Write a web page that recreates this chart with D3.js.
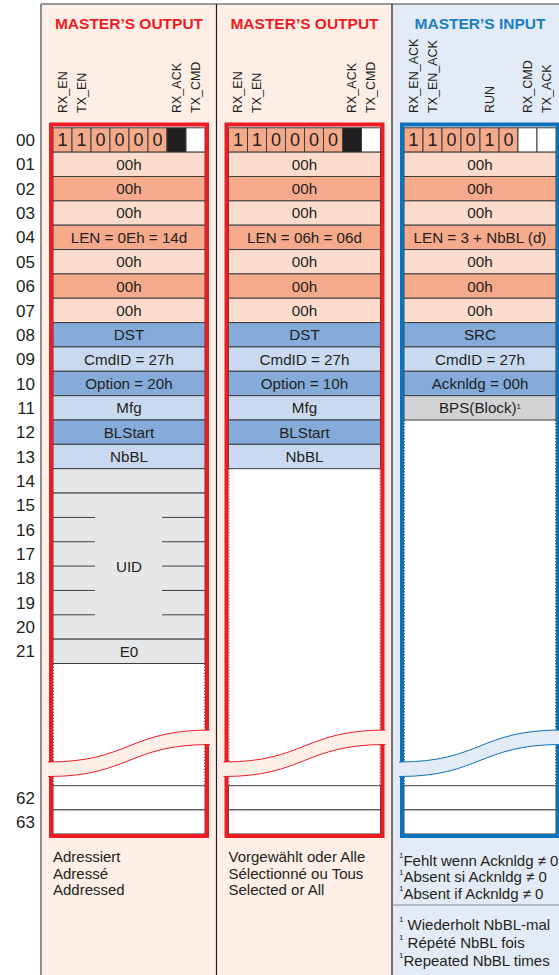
<!DOCTYPE html>
<html><head><meta charset="utf-8">
<script src="https://cdn.jsdelivr.net/npm/d3@7"></script>
<style>html,body{margin:0;padding:0;background:#fff;}svg{display:block;}</style>
</head><body>
<svg id="chart" width="559" height="975"></svg>
<script>
// ---------- data ----------
const panelTitles = ["MASTER’S OUTPUT", "MASTER’S OUTPUT", "MASTER’S INPUT"];
const panelThemes = ["out", "out", "in"];
const bitLabels = [
  ["RX_EN", "TX_EN", "", "", "", "", "RX_ACK", "TX_CMD"],
  ["RX_EN", "TX_EN", "", "", "", "", "RX_ACK", "TX_CMD"],
  ["RX_EN_ACK", "TX_EN_ACK", "", "", "RUN", "", "RX_CMD", "TX_ACK"]
];
const bitValues = [
  ["1", "1", "0", "0", "0", "0", "", ""],
  ["1", "1", "0", "0", "0", "0", "", ""],
  ["1", "1", "0", "0", "1", "0", "", ""]
];
const bitKinds = [
  ["v", "v", "v", "v", "v", "v", "black", "white"],
  ["v", "v", "v", "v", "v", "v", "black", "white"],
  ["v", "v", "v", "v", "v", "v", "white", "white"]
];
const rowLabels = ["00","01","02","03","04","05","06","07","08","09","10","11","12","13","14","15","16","17","18","19","20","21","62","63"];
const rowNumbers = [0,1,2,3,4,5,6,7,8,9,10,11,12,13,14,15,16,17,18,19,20,21,62,63];

const cellTexts = [
  ["00h","00h","00h","LEN = 0Eh = 14d","00h","00h","00h","DST","CmdID = 27h","Option = 20h","Mfg","BLStart","NbBL","","UID","E0"],
  ["00h","00h","00h","LEN = 06h = 06d","00h","00h","00h","DST","CmdID = 27h","Option = 10h","Mfg","BLStart","NbBL"],
  ["00h","00h","00h","LEN = 3 + NbBL (d)","00h","00h","00h","SRC","CmdID = 27h","Acknldg = 00h","BPS(Block)|1"]
];
const cellRows = [
  [1,2,3,4,5,6,7,8,9,10,11,12,13,14,15,21],
  [1,2,3,4,5,6,7,8,9,10,11,12,13],
  [1,2,3,4,5,6,7,8,9,10,11]
];
const cellSpans = [
  [1,1,1,1,1,1,1,1,1,1,1,1,1,1,6,1],
  [1,1,1,1,1,1,1,1,1,1,1,1,1],
  [1,1,1,1,1,1,1,1,1,1,1]
];
const cellKinds = [
  ["pl","pd","pl","pd","pl","pd","pl","bd","bl","bd","bl","bd","bl","g","uid","g"],
  ["pl","pd","pl","pd","pl","pd","pl","bd","bl","bd","bl","bd","bl"],
  ["pl","pd","pl","pd","pl","pd","pl","bd","bl","bd","g2"]
];
const tailRows = [62, 63];
const footerTexts = [
  [["Adressiert", "Adressé", "Addressed"]],
  [["Vorgewählt oder Alle", "Sélectionné ou Tous", "Selected or All"]],
  [["|1Fehlt wenn Acknldg ≠ 0", "|1Absent si Acknldg ≠ 0", "|1Absent if Acknldg ≠ 0"],
   ["|1 Wiederholt NbBL-mal", "|1 Répété NbBL fois", "|1Repeated NbBL times"]]
];

// ---------- styles ----------
const fillOf = {pl:"#fddccd", pd:"#f5aa8c", bd:"#84abd9", bl:"#c9daf0", g:"#e6e7e8", uid:"#e6e7e8", g2:"#d2d3d5",
  v:"#f5aa8c", black:"#231f20", white:"#ffffff"};
const theme = {
  out: {bg:"#fdeee6", frame:"#ed1c24", title:"#ed1c24"},
  in:  {bg:"#e3ebf6", frame:"#0b73ba", title:"#1b7dc2"}
};
const FONT = "'Liberation Sans', Arial, Helvetica, sans-serif";
const ink = "#231f20";
const cellStroke = "#3d3d3d";

const svg = d3.select("#chart").style("font-family", FONT);

// scales
const xPanel = d3.scaleLinear().domain([0, 1]).range([41, 216.5]);
const panelW = 175.5;
const cellInset = 12, cellW = 152;
const xBit = d3.scaleBand().domain(d3.range(8)).range([0, cellW]).padding(0);
const y = d3.scaleLinear().domain([0, 22, 62, 64]).range([127.8, 663.5, 785.7, 834]);

// panel backgrounds
panelThemes.forEach((t, i) => {
  const x0 = xPanel(i);
  svg.append("rect").attr("x", x0).attr("y", 4).attr("width", i === 2 ? 559 - x0 + 2 : panelW).attr("height", 975)
    .attr("fill", theme[t].bg);
});
// top border
svg.append("line").attr("x1", 41).attr("x2", 559).attr("y1", 4).attr("y2", 4).attr("stroke", "#7a7a7a").attr("stroke-width", 1.5);
// left border
svg.append("line").attr("x1", 41).attr("x2", 41).attr("y1", 4).attr("y2", 975).attr("stroke", "#8f8f8f").attr("stroke-width", 2);
// dividers
[1, 2].forEach(i => {
  svg.append("line").attr("x1", xPanel(i)).attr("x2", xPanel(i)).attr("y1", 4).attr("y2", 975)
    .attr("stroke", ink).attr("stroke-width", 1.2);
});

// row labels
svg.append("g").selectAll("text").data(rowLabels).join("text")
  .attr("x", 35).attr("y", (d, i) => (y(rowNumbers[i]) + y(rowNumbers[i] + 1)) / 2)
  .attr("dy", "0.36em").attr("text-anchor", "end").attr("font-size", 17).attr("fill", ink)
  .text(d => d);

function addSup(sel, str, supSize) {
  const parts = str.split("|1");
  parts.forEach((p, k) => {
    if (k > 0) {
      sel.append("tspan").attr("font-size", supSize).attr("dy", "-0.5em").text("1");
      sel.append("tspan").attr("dy", "0.5em").text(p);
    } else if (p) sel.append("tspan").text(p);
  });
}

panelThemes.forEach((t, p) => {
  const th = theme[t];
  const x0 = xPanel(p);
  const cx0 = x0 + cellInset, cx1 = cx0 + cellW;
  const g = svg.append("g");

  // title
  g.append("text").attr("x", cx0 + cellW / 2).attr("y", 29).attr("text-anchor", "middle")
    .attr("font-size", 15.5).attr("font-weight", "bold").attr("fill", th.title).text(panelTitles[p]);

  // vertical bit labels
  g.selectAll("text.bl").data(bitLabels[p]).join("text").attr("class", "bl")
    .attr("transform", (d, i) => `translate(${cx0 + xBit(i) + xBit.bandwidth() / 2 + 4.3},113) rotate(-90)`)
    .attr("font-size", 12.5).attr("fill", ink).text(d => d);

  // white area from end of filled rows to row 62
  const lastRow = d3.max(cellRows[p].map((r, k) => r + cellSpans[p][k]));
  g.append("rect").attr("x", cx0).attr("y", y(lastRow)).attr("width", cellW).attr("height", y(62) - y(lastRow))
    .attr("fill", "#fff");
  [cx0 + 0.5, cx1 - 0.5].forEach(xx => g.append("line").attr("x1", xx).attr("x2", xx)
    .attr("y1", y(lastRow)).attr("y2", y(62)).attr("stroke", "#6d6d6d").attr("stroke-width", 1).attr("stroke-dasharray", "1.5,1.5"));

  // bit row 00
  g.selectAll("rect.bit").data(bitValues[p]).join("rect").attr("class", "bit")
    .attr("x", (d, i) => cx0 + xBit(i)).attr("y", y(0)).attr("width", xBit.bandwidth()).attr("height", y(1) - y(0))
    .attr("fill", (d, i) => fillOf[bitKinds[p][i]]).attr("stroke", cellStroke).attr("stroke-width", 1);
  g.selectAll("text.bit").data(bitValues[p]).join("text").attr("class", "bit")
    .attr("x", (d, i) => cx0 + xBit(i) + xBit.bandwidth() / 2).attr("y", (y(0) + y(1)) / 2).attr("dy", "0.36em")
    .attr("text-anchor", "middle").attr("font-size", 18).attr("fill", ink).text(d => d);

  // cells
  cellTexts[p].forEach((txt, k) => {
    const r = cellRows[p][k], s = cellSpans[p][k], kind = cellKinds[p][k];
    const yt = y(r), yb = y(r + s);
    g.append("rect").attr("x", cx0).attr("y", yt).attr("width", cellW).attr("height", yb - yt)
      .attr("fill", fillOf[kind]).attr("stroke", cellStroke).attr("stroke-width", 1);
    if (kind === "uid") {
      d3.range(r + 1, r + s).forEach(rr => {
        g.append("line").attr("x1", cx0).attr("x2", cx0 + 42).attr("y1", y(rr)).attr("y2", y(rr)).attr("stroke", cellStroke);
        g.append("line").attr("x1", cx1 - 43).attr("x2", cx1).attr("y1", y(rr)).attr("y2", y(rr)).attr("stroke", cellStroke);
      });
    }
    if (txt) {
      const tx = g.append("text").attr("x", cx0 + cellW / 2).attr("y", (yt + yb) / 2).attr("dy", "0.36em")
        .attr("text-anchor", "middle").attr("font-size", 15.2).attr("fill", ink);
      addSup(tx, txt, 8);
    }
  });

  // tail rows 62, 63
  g.selectAll("rect.tail").data(tailRows).join("rect").attr("class", "tail")
    .attr("x", cx0).attr("y", d => y(d)).attr("width", cellW).attr("height", d => y(d + 1) - y(d))
    .attr("fill", "#fff").attr("stroke", cellStroke).attr("stroke-width", 1);

  // frame
  g.append("rect").attr("x", cx0 - 2).attr("y", y(0) - 3.3).attr("width", cellW + 4).attr("height", y(64) - y(0) + 5.3)
    .attr("fill", "none").attr("stroke", th.frame).attr("stroke-width", 4);

  // wave break
  const fx0 = cx0 - 5, fx1 = cx1 + 5, w = fx1 - fx0;
  const yL = y(62) - 23.7, yR = y(62) - 55.7, band = 14.5;
  const curve = (off) => `M${fx0},${yL + off} C${fx0 + w * 0.5},${yL + off} ${fx0 + w * 0.5},${yR + off} ${fx1},${yR + off}`;
  const bandPath = `M${fx0},${yL} C${fx0 + w * 0.5},${yL} ${fx0 + w * 0.5},${yR} ${fx1},${yR} L${fx1},${yR + band} C${fx0 + w * 0.5},${yR + band} ${fx0 + w * 0.5},${yL + band} ${fx0},${yL + band} Z`;
  g.append("path").attr("d", bandPath).attr("fill", th.bg);
  [0, band].forEach(off => g.append("path").attr("d", curve(off)).attr("fill", "none")
    .attr("stroke", th.frame).attr("stroke-width", 1));

  // footer
  const blocks = footerTexts[p];
  const fxText = p === 2 ? x0 + 7 : cx0;
  let yBase = 862;
  blocks.forEach((lines, b) => {
    if (b > 0) {
      g.append("line").attr("x1", x0).attr("x2", 559).attr("y1", 905).attr("y2", 905).attr("stroke", "#8a8a8a").attr("stroke-width", 1.2);
      yBase = 926;
    }
    lines.forEach((ln, li) => {
      const tx = g.append("text").attr("x", fxText).attr("y", yBase + li * (b > 0 ? 18 : 16.5))
        .attr("font-size", 15).attr("fill", ink);
      addSup(tx, ln, 8);
    });
  });
});
</script>
</body></html>
